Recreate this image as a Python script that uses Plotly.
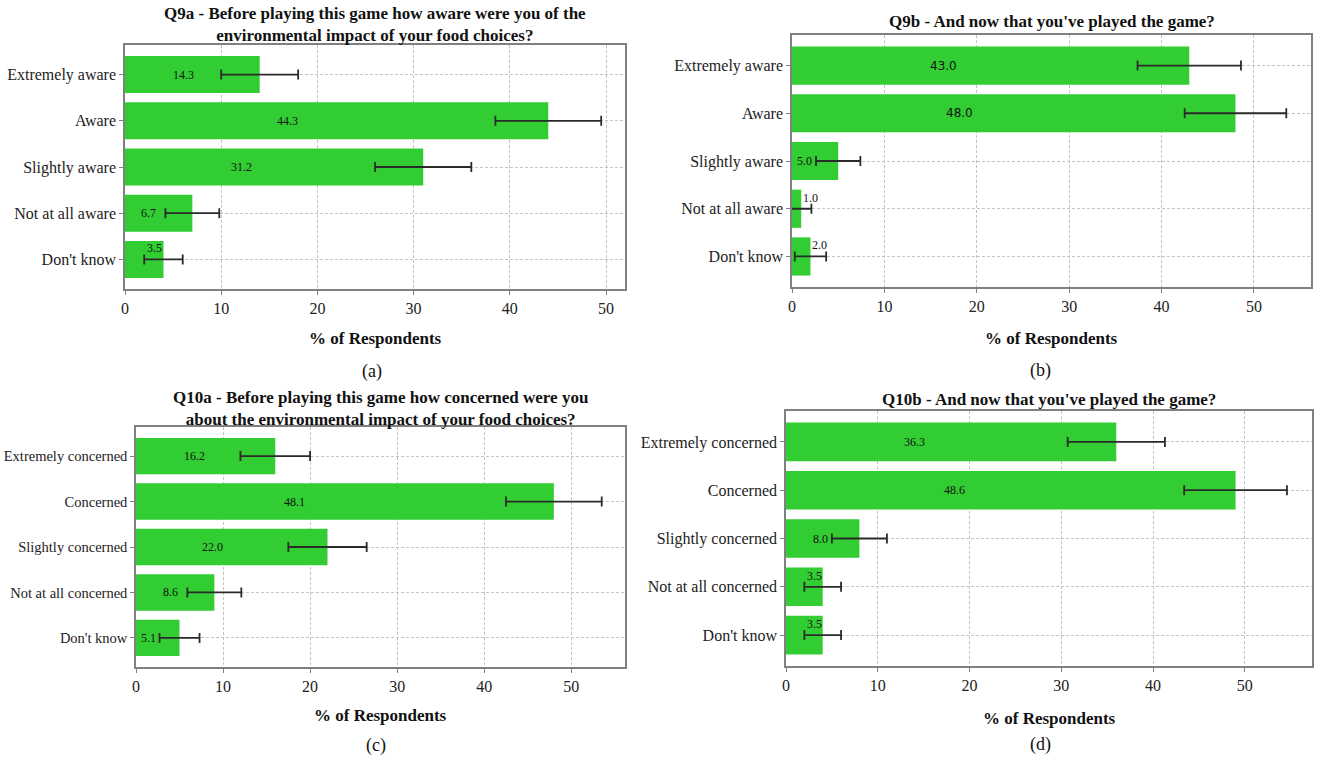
import plotly.graph_objects as go

W, H = 1321, 758

# ---------------- data ----------------
aware_cats = ["Extremely aware", "Aware", "Slightly aware", "Not at all aware", "Don't know"]
concern_cats = ["Extremely concerned", "Concerned", "Slightly concerned", "Not at all concerned", "Don't know"]

q9a_bars = [14, 44, 31, 7, 4]
q9a_err = [4.0, 5.5, 5.0, 2.8, 2.0]
q9a_labels = [14.3, 44.3, 31.2, 6.7, 3.5]

q9b_bars = [43, 48, 5, 1, 2]
q9b_err = [5.6, 5.5, 2.4, 1.1, 1.7]
q9b_labels = [43.0, 48.0, 5.0, 1.0, 2.0]

q10a_bars = [16, 48, 22, 9, 5]
q10a_err = [4.0, 5.5, 4.5, 3.1, 2.3]
q10a_labels = [16.2, 48.1, 22.0, 8.6, 5.1]

q10b_bars = [36, 49, 8, 4, 4]
q10b_err = [5.3, 5.6, 3.0, 2.0, 2.0]
q10b_labels = [36.3, 48.6, 8.0, 3.5, 3.5]

titles = [
    "Q9a - Before playing this game how aware were you of the<br>environmental impact of your food choices?",
    "Q9b - And now that you've played the game?",
    "Q10a - Before playing this game how concerned were you<br>about the environmental impact of your food choices?",
    "Q10b - And now that you've played the game?",
]
captions = ["(a)", "(b)", "(c)", "(d)"]
x_title = "% of Respondents"

# ---------------- layout (pixel boxes) ----------------
panels = [
    dict(cats=aware_cats, bars=q9a_bars, err=q9a_err, labels=q9a_labels,
         box=(125, 625, 45, 289), title_y=25, xt_y=339, cap=(372, 371),
         sans_big=False, ytick=16),
    dict(cats=aware_cats, bars=q9b_bars, err=q9b_err, labels=q9b_labels,
         box=(792, 1311, 35, 287), title_y=21, xt_y=339, cap=(1040, 370),
         sans_big=True, ytick=16),
    dict(cats=concern_cats, bars=q10a_bars, err=q10a_err, labels=q10a_labels,
         box=(136, 625, 427, 667), title_y=408, xt_y=715, cap=(376, 745),
         sans_big=False, ytick=14.5),
    dict(cats=concern_cats, bars=q10b_bars, err=q10b_err, labels=q10b_labels,
         box=(786, 1312, 411, 666), title_y=399, xt_y=718, cap=(1040, 744),
         sans_big=False, ytick=16),
]

SERIF = "Liberation Serif"
GREEN = "#32CD32"
AXC = "#808080"

fig = go.Figure()
annotations = []
layout_axes = {}


def px_x(p):
    return p / W


def px_y(p):
    return 1 - p / H


def label_pos(v):
    if v >= 8:
        return 0.36 * v + 0.9, 0
    if v >= 4.5:
        return 0.6 * v - 1.6, 0
    return min(v + 1.0, 3.1), 11


for i, p in enumerate(panels):
    n = "" if i == 0 else str(i + 1)
    xa, ya = "x" + n, "y" + n
    x0, x1, y0, y1 = p["box"]
    fig.add_trace(go.Bar(
        x=p["bars"], y=list(range(len(p["cats"]))), orientation="h",
        marker=dict(color=GREEN, line=dict(width=0)), width=0.8,
        error_x=dict(type="data", array=p["err"], visible=True,
                     color="#2a2a2a", thickness=1.8, width=5),
        xaxis=xa, yaxis=ya, showlegend=False, hoverinfo="skip",
    ))
    xmax = max(b + e for b, e in zip(p["bars"], p["err"])) * 1.05
    n_c = len(p["cats"])
    ax_common = dict(
        showline=True, linecolor=AXC, linewidth=1.5, mirror=True,
        ticks="outside", ticklen=4, tickcolor=AXC, tickwidth=1,
        showgrid=True, gridcolor="#c4c4c4", gridwidth=1, griddash="3px,2px",
        zeroline=False, automargin=False,
        tickfont=dict(family=SERIF, size=16, color="#222"),
    )
    layout_axes["xaxis" + n] = dict(
        ax_common, domain=[px_x(x0), px_x(x1)], anchor=ya,
        range=[0, xmax], tickmode="array", tickvals=[0, 10, 20, 30, 40, 50],
    )
    layout_axes["yaxis" + n] = dict(
        ax_common, domain=[px_y(y1), px_y(y0)], anchor=xa,
        range=[n_c - 1 + 0.64, -0.64], tickmode="array",
        tickvals=list(range(n_c)), ticktext=p["cats"],
        tickfont=dict(family=SERIF, size=p["ytick"], color="#222"),
    )
    # value labels
    for j, (b, lab) in enumerate(zip(p["bars"], p["labels"])):
        lx, ys = label_pos(lab)
        sans = p["sans_big"] and lab >= 10
        annotations.append(dict(
            x=lx, y=j, xref=xa, yref=ya, text=f"{lab:.1f}", showarrow=False,
            yshift=ys, font=dict(family="DejaVu Sans" if sans else SERIF,
                                 size=12, color="#111"),
        ))
    cx = (x0 + x1) / 2
    annotations.append(dict(
        x=px_x(cx), y=px_y(p["title_y"]), xref="paper", yref="paper",
        text="<b>" + titles[i].replace("<br>", "</b><br><b>") + "</b>",
        showarrow=False, xanchor="center", yanchor="middle",
        font=dict(family=SERIF, size=17, color="#111"),
    ))
    annotations.append(dict(
        x=px_x(cx), y=px_y(p["xt_y"]), xref="paper", yref="paper",
        text="<b>" + x_title + "</b>", showarrow=False,
        xanchor="center", yanchor="middle",
        font=dict(family=SERIF, size=17, color="#111"),
    ))
    annotations.append(dict(
        x=px_x(p["cap"][0]), y=px_y(p["cap"][1]), xref="paper", yref="paper",
        text=captions[i], showarrow=False, xanchor="center", yanchor="middle",
        font=dict(family=SERIF, size=18, color="#111"),
    ))

fig.update_layout(
    width=W, height=H, margin=dict(l=0, r=0, t=0, b=0, autoexpand=False),
    paper_bgcolor="white", plot_bgcolor="white",
    annotations=annotations, bargap=0.2, **layout_axes,
)

fig.write_html("out.html")
